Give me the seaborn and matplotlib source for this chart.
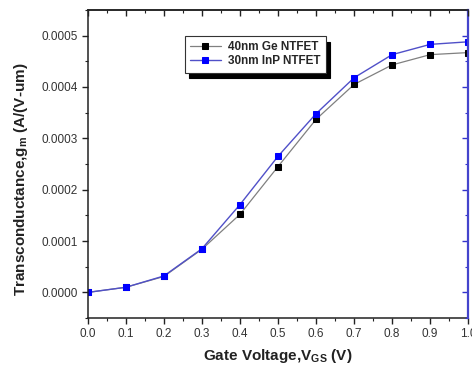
import matplotlib
matplotlib.use("Agg")
import matplotlib.pyplot as plt
import seaborn as sns
import pandas as pd
from matplotlib.ticker import MultipleLocator, FormatStrFormatter

vgs = [0.0, 0.1, 0.2, 0.3, 0.4, 0.5, 0.6, 0.7, 0.8, 0.9, 1.0]
gm_ge = [0.0, 0.000010, 0.000031, 0.000084, 0.000152, 0.000245, 0.000337, 0.000405, 0.000443, 0.000463, 0.000467]
gm_inp = [0.0, 0.000010, 0.000032, 0.000085, 0.000171, 0.000265, 0.000348, 0.000418, 0.000463, 0.000483, 0.000488]
labels = ["40nm Ge NTFET", "30nm InP NTFET"]
x_ticks = [0.0, 0.1, 0.2, 0.3, 0.4, 0.5, 0.6, 0.7, 0.8, 0.9, 1.0]
y_ticks = [0.0, 0.0001, 0.0002, 0.0003, 0.0004, 0.0005]

sns.set_theme(style="white")
plt.rcParams['font.family'] = ['Liberation Sans', 'DejaVu Sans']
plt.rcParams['mathtext.fontset'] = 'custom'
plt.rcParams['mathtext.rm'] = 'Liberation Sans'
plt.rcParams['mathtext.bf'] = 'Liberation Sans:bold'

df_ge = pd.DataFrame({"VGS": vgs, "gm": gm_ge})
df_inp = pd.DataFrame({"VGS": vgs, "gm": gm_inp})

fig = plt.figure(figsize=(4.72, 3.69), dpi=100)
ax = fig.add_axes([0.186, 0.138, 0.806, 0.835])

sns.lineplot(data=df_ge, x="VGS", y="gm", ax=ax, color="#808080", lw=0.9,
             marker="s", markersize=4.6, markerfacecolor="black", markeredgecolor="black",
             label=labels[0])
sns.lineplot(data=df_inp, x="VGS", y="gm", ax=ax, color="#5050c8", lw=1.0,
             marker="s", markersize=4.6, markerfacecolor="#0000ff", markeredgecolor="#0000ff",
             label=labels[1])

ax.set_xlim(0.0, 1.0)
ax.set_ylim(-0.00005, 0.00055)
ax.set_xticks(x_ticks)
ax.set_yticks(y_ticks)
ax.xaxis.set_major_formatter(FormatStrFormatter('%.1f'))
ax.yaxis.set_major_formatter(FormatStrFormatter('%.4f'))
ax.xaxis.set_minor_locator(MultipleLocator(0.05))
ax.yaxis.set_minor_locator(MultipleLocator(0.00005))
ax.tick_params(which='both', direction='out', bottom=True, left=True, colors='#222222',
               labelsize=8.5, labelcolor='#333333')
ax.tick_params(which='major', length=4, width=1)
ax.tick_params(which='minor', length=2.5, width=0.8)
for s in ax.spines.values():
    s.set_color('#222222')
    s.set_linewidth(1.1)

ax.set_xlabel(r"Gate Voltage,V$_{\mathbf{GS}}$ (V)", fontsize=11, fontweight='bold', color='#222222', labelpad=5)
ax.set_ylabel(r"Transconductance,g$_{\mathbf{m}}$ (A/(V-um)", fontsize=11, fontweight='bold', color='#222222')
ax.yaxis.set_label_coords(-0.152, 0.45)

# right (blue) axis with inward ticks
axr = ax.twinx()
axr.set_ylim(ax.get_ylim())
axr.set_yticks(y_ticks)
axr.yaxis.set_minor_locator(MultipleLocator(0.00005))
axr.tick_params(which='both', direction='in', right=True, labelright=False, colors='#3333cc')
axr.tick_params(which='major', length=4, width=1)
axr.tick_params(which='minor', length=2.5, width=0.8)
axr.spines['right'].set_color('#4444cc')
axr.spines['right'].set_linewidth(1.6)
for k in ['left', 'top', 'bottom']:
    axr.spines[k].set_visible(False)

# top axis with inward ticks
axt = ax.twiny()
axt.set_xlim(ax.get_xlim())
axt.set_xticks(x_ticks)
axt.xaxis.set_minor_locator(MultipleLocator(0.05))
axt.tick_params(which='both', direction='in', top=True, labeltop=False, colors='#222222')
axt.tick_params(which='major', length=4, width=1)
axt.tick_params(which='minor', length=2.5, width=0.8)
for k in ['left', 'right', 'bottom']:
    axt.spines[k].set_visible(False)
axt.spines['top'].set_color('#222222')
axt.spines['top'].set_linewidth(1.1)

handles, labs = ax.get_legend_handles_labels()
leg = axt.legend(handles, labs, loc='upper left', bbox_to_anchor=(0.255, 0.915),
                 borderaxespad=0, frameon=True, fancybox=False,
                 shadow={'color': 'black', 'alpha': 1.0, 'ox': 3, 'oy': -4},
                 prop={'weight': 'bold', 'size': 8.5}, handlelength=2.6,
                 borderpad=0.45, labelspacing=0.15, handletextpad=0.6)
leg.get_frame().set_edgecolor('#333333')
leg.get_frame().set_linewidth(0.8)
if ax.get_legend():
    ax.get_legend().remove()

fig.savefig("out.png", dpi=100)
